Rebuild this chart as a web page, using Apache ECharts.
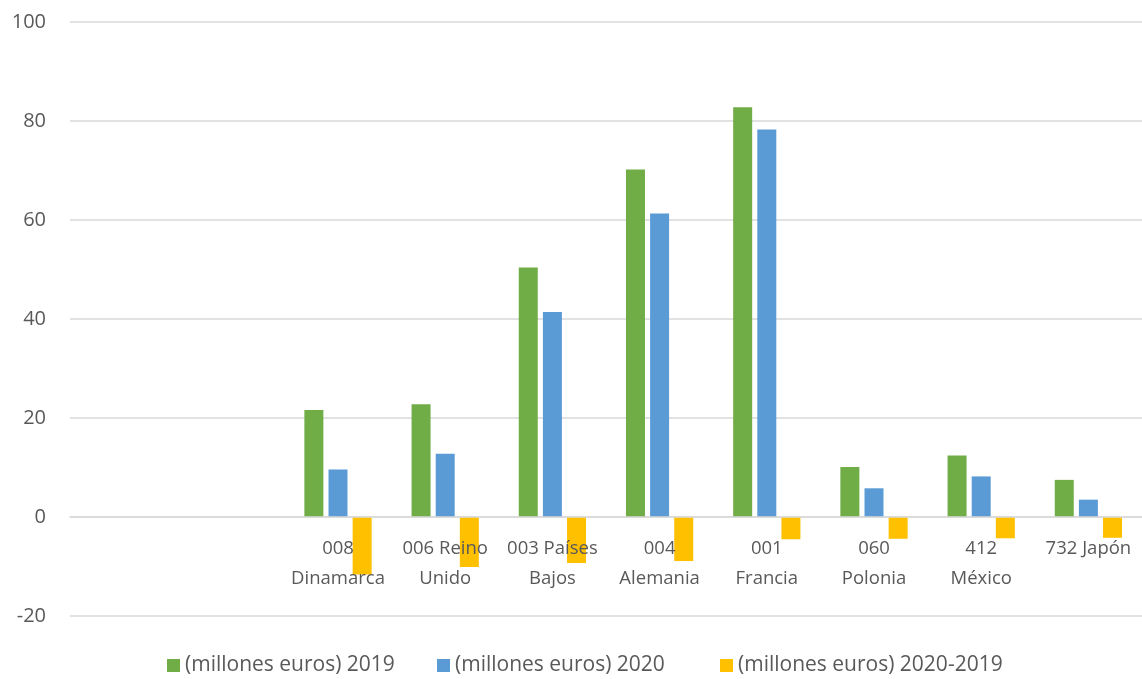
<!DOCTYPE html>
<html>
<head>
<meta charset="utf-8">
<script src="https://cdn.jsdelivr.net/npm/echarts@6/dist/echarts.min.js"></script>
<style>
html,body{margin:0;padding:0;background:#fff;}
#chart{width:1142px;height:679px;}
</style>
</head>
<body>
<div id="chart"></div>
<script>
const categories = ['', '', '008\nDinamarca', '006 Reino\nUnido', '003 Países\nBajos', '004\nAlemania', '001\nFrancia', '060\nPolonia', '412\nMéxico', '732 Japón'];
const seriesNames = ['(millones euros) 2019', '(millones euros) 2020', '(millones euros) 2020-2019'];
const values2019 = [null, null, 21.6, 22.8, 50.4, 70.2, 82.8, 10.1, 12.4, 7.5];
const values2020 = [null, null, 9.6, 12.8, 41.4, 61.3, 78.3, 5.8, 8.2, 3.5];
const valuesDiff = [null, null, -11.6, -10.1, -9.3, -8.9, -4.5, -4.4, -4.3, -4.2];
const yTicks = {min: -20, max: 100, interval: 20};
const colors = ['#70AD47', '#5B9BD5', '#FFC000'];

const chart = echarts.init(document.getElementById('chart'));
const font = '"Open Sans", sans-serif';
const textColor = '#595959';
const barW = 19;
function legendAt(idx, left) {
  return {
    data: [seriesNames[idx]], left: left, top: 655, itemWidth: 13, itemHeight: 13,
    icon: 'rect', itemGap: 5, padding: 0,
    textStyle: {color: textColor, fontSize: 21, fontFamily: font}
  };
}
chart.setOption({
  animation: false,
  color: colors,
  grid: {left: 70, right: 0, top: 22, bottom: 63, containLabel: false, outerBoundsMode: 'none'},
  legend: [legendAt(0, 167), legendAt(1, 437), legendAt(2, 720)],
  xAxis: {
    type: 'category',
    data: categories,
    z: 5,
    axisLine: {onZero: true, lineStyle: {color: '#d9d9d9', width: 1.5}},
    axisTick: {show: false},
    axisLabel: {interval: 0, color: textColor, fontSize: 18.5, fontFamily: font, lineHeight: 30, margin: -82}
  },
  yAxis: {
    type: 'value',
    min: yTicks.min, max: yTicks.max, interval: yTicks.interval,
    axisLine: {show: false},
    axisTick: {show: false},
    splitLine: {lineStyle: {color: '#d9d9d9', width: 1.5}},
    axisLabel: {color: textColor, fontSize: 20, fontFamily: font, margin: 24}
  },
  series: [
    {name: seriesNames[0], type: 'bar', data: values2019, barWidth: barW, barGap: '27%'},
    {name: seriesNames[1], type: 'bar', data: values2020, barWidth: barW, barGap: '27%'},
    {name: seriesNames[2], type: 'bar', data: valuesDiff, barWidth: barW, barGap: '27%'}
  ]
});
</script>
</body>
</html>
